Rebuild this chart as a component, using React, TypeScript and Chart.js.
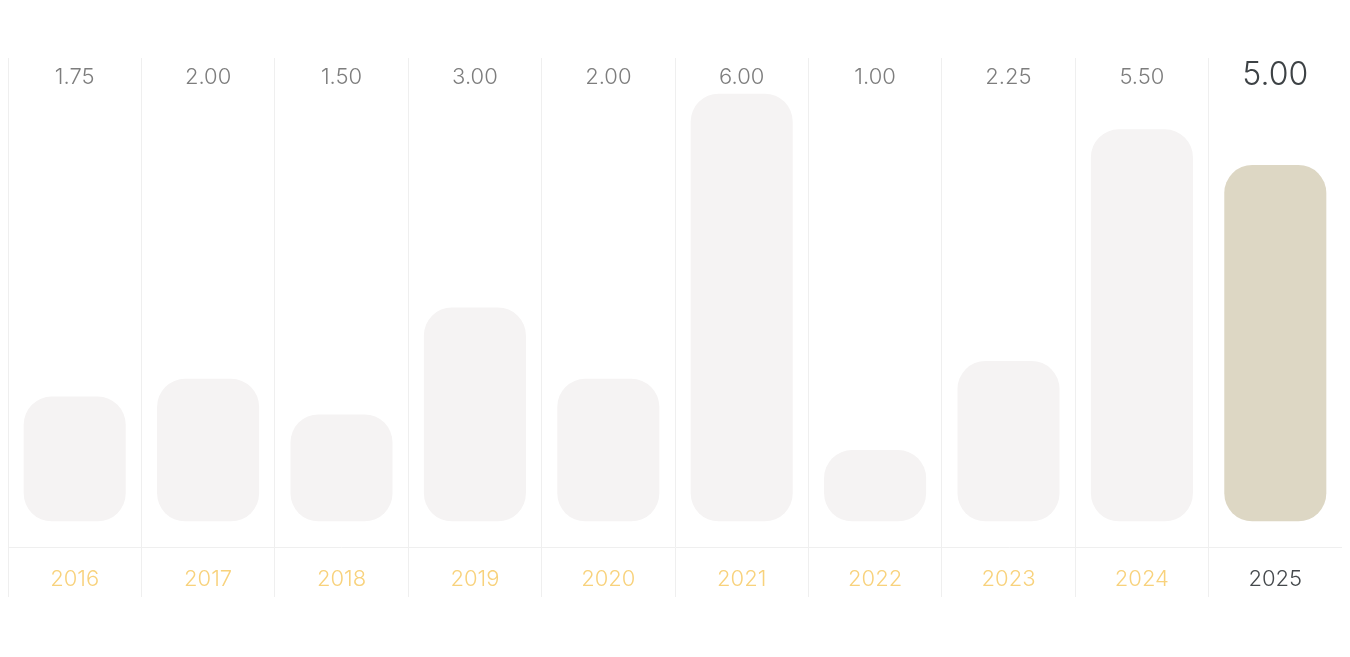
import { Chart, registerables } from 'chart.js';
Chart.register(...registerables);
import React, { useEffect, useRef } from 'react';

const years = ['2016', '2017', '2018', '2019', '2020', '2021', '2022', '2023', '2024', '2025'];
const values = [1.75, 2.0, 1.5, 3.0, 2.0, 6.0, 1.0, 2.25, 5.5, 5.0];
const current = 9;

const valueLabels = {
    id: 'valueLabels',
    afterDatasetsDraw(chart: any) {
        const { ctx, chartArea, scales } = chart;
        ctx.save();
        ctx.textAlign = 'center';
        ctx.textBaseline = 'middle';
        values.forEach((v, i) => {
            const x = scales.x.getPixelForValue(i);
            const active = i === current;
            ctx.font = '300 ' + (active ? '32px' : '22px') + ' Inter';
            ctx.fillStyle = active ? '#3d4245' : '#7d7d7d';
            ctx.fillText(v.toFixed(2), x, chartArea.top + (active ? 17 : 19));
        });
        ctx.restore();
    }
};

const App: React.FC = () => {
    const ref = useRef<HTMLCanvasElement>(null);

    useEffect(() => {
        if (!ref.current) return;
        const chart = new Chart(ref.current, {
            type: 'bar',
            data: {
                labels: years,
                datasets: [
                    {
                        data: values,
                        backgroundColor: values.map((_, i) => (i === current ? '#ddd7c4' : '#f5f3f3')),
                        borderRadius: 28,
                        borderSkipped: false,
                        barPercentage: 0.765,
                        categoryPercentage: 1,
                    }
                ]
            },
            options: {
                animation: false,
                responsive: true,
                maintainAspectRatio: false,
                layout: { padding: { top: 50 } },
                plugins: {
                    legend: { display: false },
                    tooltip: { enabled: false },
                },
                scales: {
                    y: {
                        display: false,
                        min: -0.36,
                        max: 6.5,
                    },
                    x: {
                        afterFit: (scale: any) => { scale.height = 50; },
                        grid: {
                            color: '#efefef',
                            tickColor: '#efefef',
                            tickLength: 50,
                            offset: true,
                        },
                        border: { color: '#efefef' },
                        ticks: {
                            padding: -31,
                            color: (c: any) => (c.index === current ? '#45494c' : '#f8d27c'),
                            font: { family: 'Inter', size: 22, weight: '300' },
                        },
                    },
                },
            },
            plugins: [valueLabels],
        });
        return () => {
            chart.destroy();
        };
    }, []);

    return (
        <div style={{ position: 'relative', height: 589 }}>
            <canvas ref={ref}></canvas>
        </div>
    );
};

export default App;
